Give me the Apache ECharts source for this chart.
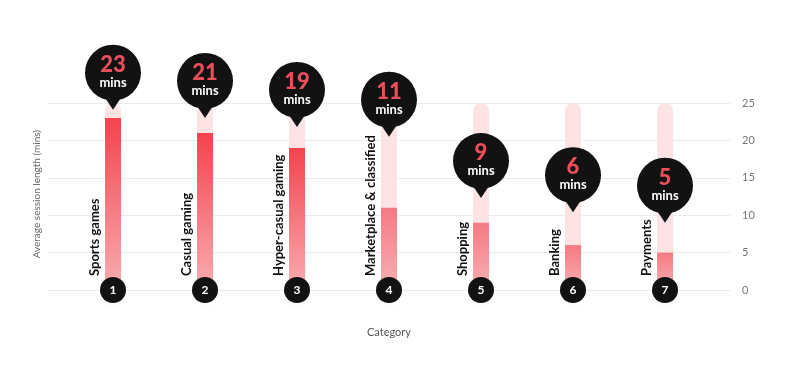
<!DOCTYPE html>
<html>
<head>
<meta charset="utf-8">
<script src="https://cdn.jsdelivr.net/npm/echarts@6/dist/echarts.min.js"></script>
<style>html,body{margin:0;padding:0;background:#fff;}#c{width:800px;height:372px;}</style>
</head>
<body>
<div id="c"></div>
<script>
// ---- data ----
const categories = ['Sports games', 'Casual gaming', 'Hyper-casual gaming', 'Marketplace & classified', 'Shopping', 'Banking', 'Payments'];
const ranks = ['1', '2', '3', '4', '5', '6', '7'];
const sessionMins = [23, 21, 19, 11, 9, 6, 5];
// level (in minutes) at which each callout's pointer tip sits
const calloutLevels = [24.1, 23.0, 21.8, 20.5, 12.3, 10.4, 9.0];
const yTicks = [0, 5, 10, 15, 20, 25];

const FONT = 'Lato, "Open Sans", sans-serif';
const yMin = yTicks[0], yMax = yTicks[yTicks.length - 1];

function barGradient(i) {
  const strong = i < 3;
  return new echarts.graphic.LinearGradient(0, 0, 0, 1, [
    { offset: 0, color: strong ? '#f4434e' : '#f47a83' },
    { offset: 1, color: strong ? '#f8adb1' : '#f8b0b4' }
  ]);
}

const chart = echarts.init(document.getElementById('c'), null, { renderer: 'canvas' });
chart.setOption({
  backgroundColor: '#ffffff',
  textStyle: { fontFamily: FONT },
  animation: false,
  grid: [
    { left: 48, right: 70, top: 103, bottom: 82 },
    { left: 67, right: 89, top: 103, bottom: 82 }
  ],
  xAxis: [
    { gridIndex: 0, type: 'value', min: 0, max: 1, show: false },
    {
      gridIndex: 1, type: 'category', data: categories,
      axisLine: { show: false }, axisTick: { show: false }, axisLabel: { show: false },
      name: 'Category', nameLocation: 'middle', nameGap: 37,
      nameTextStyle: { fontSize: 11, color: '#555', fontFamily: FONT }
    }
  ],
  yAxis: [
    {
      gridIndex: 0, type: 'value', position: 'right', min: yMin, max: yMax, interval: 5,
      axisLine: { show: false }, axisTick: { show: false },
      axisLabel: { margin: 12, fontSize: 11, color: '#777', fontFamily: FONT },
      splitLine: { lineStyle: { color: '#ebebeb', width: 1 } }
    },
    { gridIndex: 1, type: 'value', min: yMin, max: yMax, show: false }
  ],
  graphic: [{
    type: 'text', left: 32, top: 130, rotation: Math.PI / 2,
    style: { text: 'Average session length (mins)', fill: '#666', font: '10px ' + FONT }
  }],
  series: [
    {
      type: 'custom', xAxisIndex: 1, yAxisIndex: 1, z: 1, clip: false,
      data: categories.map((c, i) => [i, yMax]),
      renderItem: function (params, api) {
        const i = api.value(0);
        const top = api.coord([i, yMax]);
        const zero = api.coord([i, 0]);
        const below = api.coord([i, -2.3]);
        const w = 16;
        return {
          type: 'group',
          children: [
            { type: 'rect', shape: { x: top[0] - w / 2, y: top[1], width: w, height: zero[1] - top[1], r: [8, 8, 0, 0] },
              style: { fill: '#fde3e3' } },
            { type: 'rect', shape: { x: top[0] - w / 2, y: zero[1], width: w, height: below[1] - zero[1] },
              style: { fill: new echarts.graphic.LinearGradient(0, 0, 0, 1, [
                { offset: 0, color: '#fde3e3' }, { offset: 1, color: 'rgba(253,227,227,0)' }]) } }
          ]
        };
      }
    },
    {
      type: 'bar', xAxisIndex: 1, yAxisIndex: 1, z: 2, barWidth: 16,
      data: sessionMins.map((v, i) => ({ value: v, itemStyle: { color: barGradient(i) } }))
    },
    {
      type: 'custom', xAxisIndex: 1, yAxisIndex: 1, z: 4, clip: false,
      data: categories.map((c, i) => [i, 0]),
      renderItem: function (params, api) {
        const i = api.value(0);
        const p = api.coord([i, 0]);
        return {
          type: 'text', x: p[0] - 18, y: p[1] - 14, rotation: Math.PI / 2,
          style: { text: categories[params.dataIndex], fill: '#111', font: 'bold 13px ' + FONT,
                   textAlign: 'left', textVerticalAlign: 'middle' }
        };
      }
    },
    {
      type: 'custom', xAxisIndex: 1, yAxisIndex: 1, z: 5, clip: false,
      data: ranks.map((r, i) => [i, 0]),
      renderItem: function (params, api) {
        const p = api.coord([api.value(0), 0]);
        return {
          type: 'group',
          children: [
            { type: 'circle', shape: { cx: p[0], cy: p[1], r: 13 }, style: { fill: '#121212' } },
            { type: 'text', x: p[0], y: p[1] + 0.5,
              style: { text: ranks[params.dataIndex], fill: '#fff', font: 'bold 12px ' + FONT,
                       textAlign: 'center', textVerticalAlign: 'middle' } }
          ]
        };
      }
    },
    {
      type: 'custom', xAxisIndex: 1, yAxisIndex: 1, z: 6, clip: false,
      data: calloutLevels.map((v, i) => [i, v]),
      renderItem: function (params, api) {
        const tip = api.coord([api.value(0), api.value(1)]);
        const cx = tip[0], cy = tip[1] - 37, r = 28;
        return {
          type: 'group',
          children: [
            { type: 'circle', shape: { cx: cx, cy: cy, r: r }, style: { fill: '#121212' } },
            { type: 'polygon', shape: { points: [[cx - 8, cy + 25], [cx + 8, cy + 25], [cx, tip[1]]] }, style: { fill: '#121212' } },
            { type: 'text', x: cx, y: cy - 8,
              style: { text: String(sessionMins[params.dataIndex]), fill: '#ea4f5b', font: '900 22px ' + FONT,
                       textAlign: 'center', textVerticalAlign: 'middle' } },
            { type: 'text', x: cx, y: cy + 10,
              style: { text: 'mins', fill: '#fff', font: 'bold 13px ' + FONT,
                       textAlign: 'center', textVerticalAlign: 'middle' } }
          ]
        };
      }
    }
  ]
});
</script>
</body>
</html>
